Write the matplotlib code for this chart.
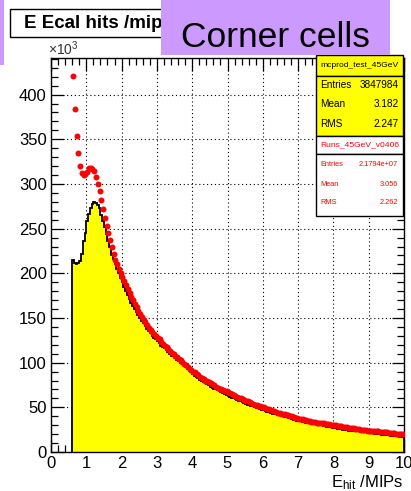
import matplotlib
matplotlib.use("Agg")  # headless
import matplotlib.pyplot as plt
from matplotlib.patches import Rectangle
import numpy as np

plt.rcParams["font.family"] = ["Liberation Sans", "DejaVu Sans"]
plt.rcParams["mathtext.fontset"] = "custom"
plt.rcParams["mathtext.rm"] = "Liberation Sans"
plt.rcParams["mathtext.it"] = "Liberation Sans:italic"

# histogram binning (E_hit in MIPs)
bin_start = 0.6
bin_width = 0.05

# simulation (yellow histogram), entries per bin in units of 1e3
mc_counts = [
    215, 212, 210, 211, 214, 222, 236, 245, 258, 266,
    273, 278, 280, 279, 276, 273, 265, 258, 252, 244,
    236, 229, 221, 216, 210, 205, 200, 195, 190, 185,
    180, 176, 171, 167, 163, 160, 157, 153,
    150, 147, 144, 141, 138, 135, 133, 130, 128, 126,
    124, 122, 119, 118, 116, 114, 112, 110, 108, 107,
    105, 103, 102, 100, 98, 97, 95, 93, 91, 89,
    87, 85, 84, 83, 81, 80, 78, 77, 76, 75,
    73, 72, 71, 70, 69, 68, 67, 66, 65, 64,
    63, 62, 61, 60, 59, 58, 57, 57, 56, 55,
    54, 53, 53, 52, 51, 50, 49, 49, 48, 47,
    47, 46, 45, 45, 44, 43, 43, 42, 41, 41,
    41, 40, 39, 39, 38, 38, 37, 36, 36, 35,
    35, 35, 34, 34, 33, 33, 32, 32, 32, 31,
    31, 30, 30, 30, 29, 29, 28, 28, 28, 27,
    27, 27, 26, 26, 26, 25, 25, 25, 24, 24,
    24, 24, 23, 23, 23, 22, 22, 22, 22, 21,
    21, 21, 21, 20, 20, 20, 20, 19, 19, 19,
    19, 19, 18, 18, 18, 18, 18, 17, 17, 17,
]

# data runs (red markers), entries per bin in units of 1e3
data_counts = [
    421, 384, 354, 335, 320, 312, 310, 311, 313, 318,
    318, 317, 314, 308, 300, 292, 282, 272, 262, 253,
    245, 237, 229, 222, 215, 210, 205, 200, 196, 191,
    187, 182, 178, 174, 170, 166, 162, 158,
    154, 151, 148, 145, 142, 139, 137, 134, 132, 130,
    128, 126, 123, 121, 119, 117, 115, 113, 111, 110,
    108, 106, 104, 103, 101, 99, 97, 95, 93, 92,
    90, 89, 87, 86, 84, 83, 82, 80, 79, 78,
    77, 76, 75, 73, 72, 71, 70, 69, 68, 68,
    67, 66, 65, 64, 63, 62, 61, 60, 59, 58,
    57, 57, 56, 55, 54, 53, 53, 52, 51, 50,
    50, 49, 48, 48, 47, 46, 46, 45, 44, 44,
    43, 43, 42, 41, 41, 40, 40, 39, 38, 38,
    37, 37, 37, 36, 36, 35, 35, 34, 34, 34,
    33, 33, 33, 32, 32, 31, 31, 31, 30, 30,
    30, 30, 29, 29, 29, 28, 28, 28, 27, 27,
    27, 27, 26, 26, 26, 25, 25, 25, 25, 24,
    24, 24, 24, 23, 23, 23, 22, 22, 22, 22,
    22, 21, 21, 21, 21, 20, 20, 20, 20, 20,
]

mc_stats = [("Entries", "3847984"), ("Mean", "3.182"), ("RMS", "2.247")]
data_stats = [("Entries", "2.1794e+07"), ("Mean", "3.056"), ("RMS", "2.262")]

W, H = 411, 491
fig = plt.figure(figsize=(W / 100, H / 100), dpi=100)


def fx(x):
    return x / W


def fy(y):
    return 1 - y / H


def box(x0, y0, x1, y1, face, edge="black", z=5, lw=1.0):
    fig.patches.append(Rectangle((fx(x0), fy(y1)), fx(x1) - fx(x0), fy(y0) - fy(y1),
                                 transform=fig.transFigure, facecolor=face,
                                 edgecolor=edge, linewidth=lw, zorder=z))


ax = fig.add_axes([fx(51), fy(452), fx(404) - fx(51), fy(58) - fy(452)])

edges = bin_start + bin_width * np.arange(len(mc_counts) + 1)
centers = 0.5 * (edges[:-1] + edges[1:])

ax.stairs(mc_counts, edges, baseline=0, fill=True, color="#ffff00", zorder=2)
ax.stairs(mc_counts, edges, baseline=0, fill=False, color="black", linewidth=1.3, zorder=3)
ax.plot(centers, data_counts, "o", color="#ff0000", markersize=4.3,
        markeredgewidth=0, zorder=4)

ax.set_xlim(0, 10)
ax.set_ylim(0, 441)
ax.set_xticks(np.arange(0, 11, 1))
ax.set_yticks(np.arange(0, 401, 50))
ax.set_xticks(np.arange(0, 10.01, 0.2), minor=True)
ax.set_yticks(np.arange(0, 441, 10), minor=True)
ax.tick_params(which="both", direction="in", top=True, right=True, width=0.9,
               labelsize=12, pad=3)
ax.tick_params(which="major", length=9)
ax.tick_params(which="minor", length=5)
ax.grid(True, which="major", linestyle=(0, (1, 2.5)), color="black", linewidth=0.8)
ax.set_axisbelow(True)
for s in ax.spines.values():
    s.set_linewidth(1.0)

fig.text(fx(48), fy(55), r"$\times10^{3}$", fontsize=10, color="#333333",
         ha="left", va="baseline")
fig.text(fx(403), fy(483), r"E$_{\rm hit}$ /MIPs", fontsize=12, ha="right", va="center")

# title box
box(10, 9, 200, 37, "white", z=5)
fig.text(fx(24), fy(23), "E Ecal hits /mips", fontsize=13.5, fontweight="bold",
         ha="left", va="center", zorder=6)

# stats boxes
box(316, 55, 403, 76, "#ffff00", z=5)
box(316, 76, 403, 136, "#ffff00", z=5)
box(316, 136, 403, 154, "white", z=5)
box(316, 154, 403, 216, "white", z=5)
fig.text(fx(359.5), fy(65.5), "mcprod_test_45GeV", fontsize=6.1, ha="center",
         va="center", zorder=6)
for (name, val), y in zip(mc_stats, [85, 104, 124]):
    fig.text(fx(320), fy(y), name, fontsize=7.2, ha="left", va="center", zorder=6)
    fig.text(fx(399), fy(y), val, fontsize=7.2, ha="right", va="center", zorder=6)
fig.text(fx(359.5), fy(145), "Runs_45GeV_v0406", fontsize=6.1, color="#ff0000",
         ha="center", va="center", zorder=6)
for (name, val), y in zip(data_stats, [164, 184, 203]):
    fig.text(fx(320), fy(y), name, fontsize=5.3, color="#ff0000", ha="left",
             va="center", zorder=6)
    fig.text(fx(398), fy(y), val, fontsize=5.3, color="#ff0000", ha="right",
             va="center", zorder=6)

# slide overlay
box(161, -2, 390, 55, "#cc99ff", edge="none", z=7)
box(-2, -2, 4, 65, "#cc99ff", edge="none", z=7)
fig.text(fx(275), fy(47), "Corner cells", fontsize=25.5, ha="center",
         va="baseline", zorder=8)

fig.savefig("out.png", dpi=100)
